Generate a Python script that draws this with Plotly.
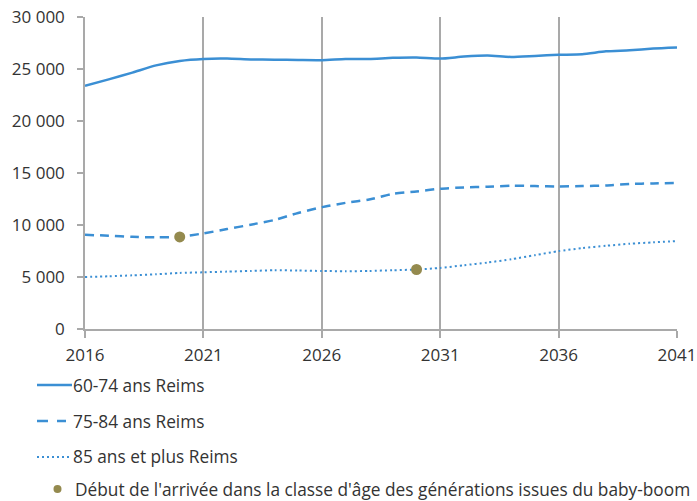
import plotly.graph_objects as go

years = list(range(2016, 2042))
s_60_74 = [23380, 24000, 24650, 25350, 25780, 25970, 26000, 25920, 25900, 25870,
           25850, 25950, 25970, 26070, 26100, 26000, 26190, 26290, 26160, 26260,
           26360, 26420, 26700, 26800, 26970, 27070]
s_75_84 = [9060, 8970, 8870, 8810, 8870, 9190, 9610, 10030, 10480, 11160,
           11710, 12130, 12450, 13000, 13220, 13490, 13610, 13680, 13780, 13740,
           13710, 13740, 13800, 13940, 14000, 14040]
s_85 = [5000, 5070, 5160, 5260, 5390, 5450, 5520, 5580, 5650, 5620,
        5580, 5550, 5580, 5650, 5720, 5870, 6130, 6390, 6710, 7100,
        7490, 7780, 8000, 8200, 8330, 8460]
boom_x = [2020, 2030]
boom_y = [8850, 5720]

names = ["60-74 ans Reims", "75-84 ans Reims", "85 ans et plus Reims",
         "Début de l'arrivée dans la classe d'âge des générations issues du baby-boom"]
x_ticks = [2016, 2021, 2026, 2031, 2036, 2041]

blue = "#3b8fd4"
olive = "#948a4e"
grid = "#a9a9a9"
txt = "#333333"
FONT = "Open Sans"
FS = 17
LFS = 17.3

W, H = 697, 501
ML, MR, MT, MB = 85, 20, 17, 172
PW, PH = W - ML - MR, H - MT - MB

styles = [
    dict(color=blue, width=2.5),
    dict(color=blue, width=2.5, dash="9px,6px"),
    dict(color=blue, width=2, dash="2px,3px"),
]
series = [s_60_74, s_75_84, s_85]

fig = go.Figure()
for nm, ys, st in zip(names[:3], series, styles):
    fig.add_trace(go.Scatter(x=years, y=ys, mode="lines", name=nm,
                             line=dict(shape="spline", smoothing=0.6, **st),
                             showlegend=False))
fig.add_trace(go.Scatter(x=boom_x, y=boom_y, mode="markers", name=names[3],
                         marker=dict(color=olive, size=11), showlegend=False))


def px(x):
    return (x - ML) / PW


def py(y):
    return (H - MB - y) / PH


# manual legend (pixel positions converted to paper coords)
leg_y = [385, 421, 457, 489]
leg_dash = [None, "11px,9px", "2px,3px"]
leg_end = [72, 66, 70]
shapes = []
annotations = []
for i in range(3):
    ln = dict(color=blue, width=2.5 if i < 2 else 2)
    if leg_dash[i]:
        ln["dash"] = leg_dash[i]
    shapes.append(dict(type="line", xref="paper", yref="paper",
                       x0=px(37), x1=px(leg_end[i]), y0=py(leg_y[i]), y1=py(leg_y[i]),
                       line=ln))
    annotations.append(dict(xref="paper", yref="paper", x=px(72), y=py(leg_y[i]),
                            xanchor="left", yanchor="middle", showarrow=False, borderpad=0,
                            text=names[i], font=dict(family=FONT, size=LFS, color=txt)))
shapes.append(dict(type="circle", xref="paper", yref="paper",
                   x0=px(53.5), x1=px(61.5), y0=py(leg_y[3] - 4), y1=py(leg_y[3] + 4),
                   fillcolor=olive, line=dict(width=0)))
annotations.append(dict(xref="paper", yref="paper", x=px(74), y=py(leg_y[3]),
                        xanchor="left", yanchor="middle", showarrow=False, borderpad=0,
                        text=names[3], font=dict(family=FONT, size=LFS, color=txt)))

fig.update_layout(
    width=W, height=H,
    margin=dict(l=ML, r=MR, t=MT, b=MB),
    paper_bgcolor="white", plot_bgcolor="white",
    separators=", ",
    font=dict(family=FONT, size=FS, color=txt),
    showlegend=False,
    shapes=shapes, annotations=annotations,
    xaxis=dict(range=[2016, 2041], tickvals=x_ticks, ticktext=[str(t) for t in x_ticks],
               showgrid=True, gridcolor=grid, gridwidth=1.5,
               showline=True, linecolor=grid, linewidth=1.5,
               ticks="outside", ticklen=7, tickcolor=grid, tickwidth=1.5,
               ticklabelstandoff=3, automargin=False, ticklabeloverflow="allow",
               zeroline=False, tickfont=dict(family=FONT, size=FS, color=txt)),
    yaxis=dict(range=[0, 30000], dtick=5000, tickformat=",d",
               showgrid=False, showline=True, linecolor=grid, linewidth=1.5,
               ticks="outside", ticklen=6, tickcolor=grid, tickwidth=1.5,
               ticklabelstandoff=9, automargin=False, ticklabeloverflow="allow",
               zeroline=False, tickfont=dict(family=FONT, size=FS, color=txt)),
)

fig.write_html(
    "out.html",
    config={"displayModeBar": False},
    post_script="document.body.style.margin='0';document.body.style.overflow='hidden';",
)
